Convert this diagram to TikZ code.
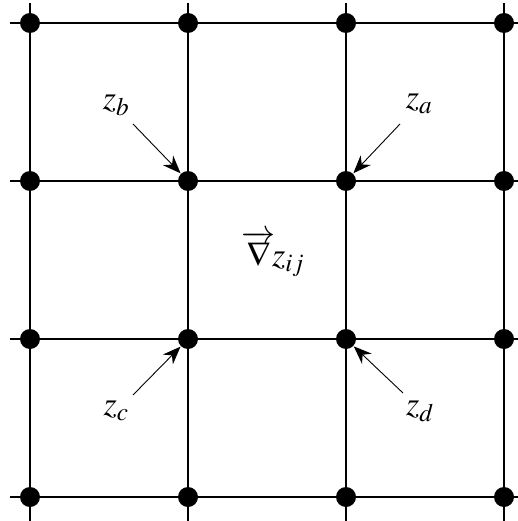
\documentclass[tikz,border=0pt]{standalone}
\usepackage{mathptmx}
\usetikzlibrary{arrows.meta}
\begin{document}
\begin{tikzpicture}[
    x=1pt,y=-1pt,
    every node/.style={font=\fontsize{34}{36}\selectfont},
    gridline/.style={draw=black, line width=1.4pt},
    knot/.style={circle, fill=black, minimum size=20pt, inner sep=0pt},
    pointer/.style={draw=black, line width=0.9pt, -{Stealth[length=18pt,width=14pt]}, shorten >=0.5pt}
]
    \useasboundingbox (0,0) rectangle (518,521);

    % grid lines
    \foreach \c in {30,188,346,504} {
        \draw[gridline] (\c,3) -- (\c,530);
        \draw[gridline] (10,\c-7) -- (530,\c-7);
    }

    % grid points
    \foreach \c [count=\i] in {30,188,346,504} {
        \foreach \r [count=\j] in {23,181,339,497} {
            \node[knot] (p-\i-\j) at (\c,\r) {};
        }
    }

    \node (zb) at (116,105) {$z_b$};
    \node (za) at (419,104) {$z_a$};
    \node (zc) at (116,411) {$z_c$};
    \node (zd) at (420,411) {$z_d$};
    \node (grad) at (273,254) {$\overrightarrow{\nabla}\! z_{ij}$};

    \coordinate (tb) at (133,124);
    \coordinate (ta) at (400,124);
    \coordinate (tc) at (133,395);
    \coordinate (td) at (403,393);

    \draw[pointer] (tb) -- (p-2-2);
    \draw[pointer] (ta) -- (p-3-2);
    \draw[pointer] (tc) -- (p-2-3);
    \draw[pointer] (td) -- (p-3-3);
\end{tikzpicture}
\end{document}
